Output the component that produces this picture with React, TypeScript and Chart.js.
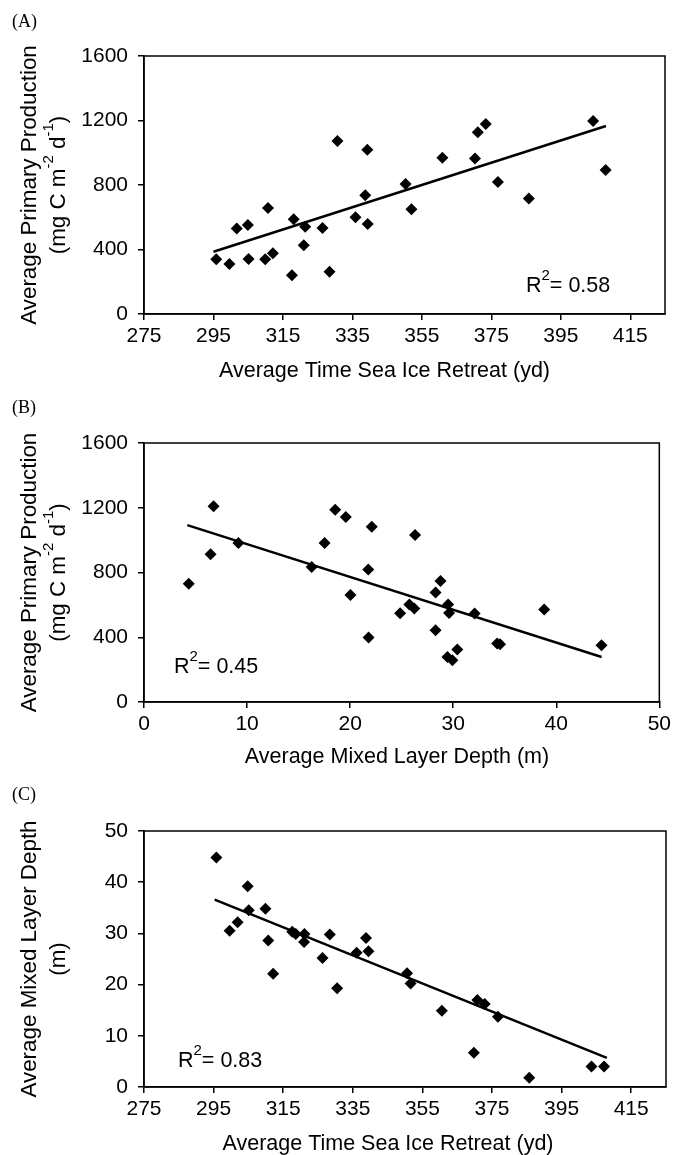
import React, { useEffect, useRef } from "react";
import { Chart, registerables } from "chart.js";

Chart.register(...registerables);

// ---------- data ----------
// Panel A: sea-ice retreat (yd) vs primary production
const retreatA = [295.8, 299.6, 301.7, 304.9, 305.1, 309.9, 310.7, 312.1, 317.6, 318.1, 321.0, 321.4, 326.4, 328.4, 330.7, 335.9, 338.7, 339.3, 339.4, 350.3, 352.0, 360.9, 370.3, 371.1, 373.4, 376.9, 385.8, 404.3, 407.9];
const productionA = [339, 310, 531, 552, 341, 339, 657, 376, 240, 587, 426, 541, 533, 262, 1073, 600, 736, 1019, 558, 806, 649, 969, 965, 1127, 1178, 819, 717, 1197, 893];
const trendAX = [295, 408];
const trendAY = [386, 1166];

// Panel B: mixed layer depth (m) vs primary production
const mldB = [4.34, 6.46, 6.75, 9.16, 16.27, 17.52, 18.55, 19.58, 20.03, 21.76, 21.79, 22.1, 24.85, 25.75, 26.23, 26.3, 28.29, 28.29, 28.77, 29.44, 29.51, 29.6, 29.92, 30.4, 32.08, 34.26, 34.55, 38.83, 44.39];
const productionB = [731, 912, 1209, 982, 834, 982, 1188, 1143, 661, 818, 398, 1083, 548, 603, 577, 1032, 676, 443, 747, 278, 603, 550, 258, 325, 546, 361, 356, 571, 350];
const trendBX = [4.2, 44.4];
const trendBY = [1093, 278];

// Panel C: sea-ice retreat (yd) vs mixed layer depth
const retreatC = [295.8, 299.6, 301.9, 304.8, 305.1, 309.9, 310.7, 312.1, 317.6, 318.6, 321.0, 321.1, 326.3, 328.4, 330.5, 336.1, 338.8, 339.5, 350.6, 351.6, 360.6, 369.8, 370.8, 372.9, 376.7, 385.7, 403.6, 407.2];
const mldC = [44.8, 30.5, 32.2, 39.2, 34.5, 34.8, 28.6, 22.1, 30.3, 29.9, 28.3, 29.9, 25.2, 29.8, 19.3, 26.2, 29.1, 26.5, 22.2, 20.2, 14.9, 6.7, 17.0, 16.2, 13.7, 1.8, 4.0, 4.0];
const trendCX = [295.3, 408];
const trendCY = [36.6, 5.7];

// ticks
const retreatTicks = [275, 295, 315, 335, 355, 375, 395, 415];
const mldXTicks = [0, 10, 20, 30, 40, 50];
const productionTicks = [0, 400, 800, 1200, 1600];
const mldYTicks = [0, 10, 20, 30, 40, 50];

// texts
const panelLabels = ["(A)", "(B)", "(C)"];
const r2Values = ["0.58", "0.45", "0.83"];
const xTitles = [
  "Average Time Sea Ice Retreat (yd)",
  "Average Mixed Layer Depth (m)",
  "Average Time Sea Ice Retreat (yd)",
];
const ppTitle = "Average Primary Production";
const mldTitle = "Average Mixed Layer Depth";

const SANS = '"Liberation Sans", Arial, Helvetica, sans-serif';
const SERIF = '"Liberation Serif", "Times New Roman", serif';

type Seg = { t: string; sup?: boolean };

const ppUnits: Seg[] = [
  { t: "(mg C m" },
  { t: "-2", sup: true },
  { t: " d" },
  { t: "-1", sup: true },
  { t: ")" },
];
const mldUnits: Seg[] = [{ t: "(m)" }];

type PanelCfg = {
  top: number;
  height: number;
  plotTop: number;
  plotBottom: number;
  plotRight: number;
  xs: number[];
  ys: number[];
  tx: number[];
  ty: number[];
  xMin: number;
  xMax: number;
  xTicks: number[];
  yMin: number;
  yMax: number;
  yTicks: number[];
  label: string;
  labelBase: number;
  yTitle1: string;
  yTitle2: Seg[];
  xTitle: string;
  xTitleCx: number;
  xTitleBase: number;
  r2: string;
  r2X: number;
  r2Base: number;
};

const panels: PanelCfg[] = [
  {
    top: 0, height: 390, plotTop: 56, plotBottom: 314, plotRight: 665,
    xs: retreatA, ys: productionA, tx: trendAX, ty: trendAY,
    xMin: 275, xMax: 425, xTicks: retreatTicks,
    yMin: 0, yMax: 1600, yTicks: productionTicks,
    label: panelLabels[0], labelBase: 26.7,
    yTitle1: ppTitle, yTitle2: ppUnits,
    xTitle: xTitles[0], xTitleCx: 384.5, xTitleBase: 376.7,
    r2: r2Values[0], r2X: 526, r2Base: 292,
  },
  {
    top: 390, height: 390, plotTop: 53, plotBottom: 312, plotRight: 662,
    xs: mldB, ys: productionB, tx: trendBX, ty: trendBY,
    xMin: 0, xMax: 50, xTicks: mldXTicks,
    yMin: 0, yMax: 1600, yTicks: productionTicks,
    label: panelLabels[1], labelBase: 23.3,
    yTitle1: ppTitle, yTitle2: ppUnits,
    xTitle: xTitles[1], xTitleCx: 397, xTitleBase: 373,
    r2: r2Values[1], r2X: 174, r2Base: 283.3,
  },
  {
    top: 780, height: 375, plotTop: 51, plotBottom: 307, plotRight: 666,
    xs: retreatC, ys: mldC, tx: trendCX, ty: trendCY,
    xMin: 275, xMax: 425, xTicks: retreatTicks,
    yMin: 0, yMax: 50, yTicks: mldYTicks,
    label: panelLabels[2], labelBase: 20,
    yTitle1: mldTitle, yTitle2: mldUnits,
    xTitle: xTitles[2], xTitleCx: 388, xTitleBase: 370,
    r2: r2Values[2], r2X: 178, r2Base: 286.7,
  },
];

const MAIN = 21.5;
const YTITLE = 22.4;
const SUP = 15;
const RISE = 12;

function segWidth(ctx: CanvasRenderingContext2D, segs: Seg[], size: number, sup: number) {
  let w = 0;
  for (const s of segs) {
    ctx.font = `${s.sup ? sup : size}px ${SANS}`;
    w += ctx.measureText(s.t).width;
  }
  return w;
}

function drawSegs(ctx: CanvasRenderingContext2D, segs: Seg[], x: number, base: number, size: number, sup: number, rise: number) {
  let cx = x;
  ctx.textAlign = "left";
  ctx.textBaseline = "alphabetic";
  for (const s of segs) {
    ctx.font = `${s.sup ? sup : size}px ${SANS}`;
    ctx.fillText(s.t, cx, s.sup ? base - rise : base);
    cx += ctx.measureText(s.t).width;
  }
}

function makeOverlay(cfg: PanelCfg) {
  return {
    id: "overlay",
    afterDraw(chart: any) {
      const ctx: CanvasRenderingContext2D = chart.ctx;
      const a = chart.chartArea;
      ctx.save();
      // frame
      ctx.strokeStyle = "#000";
      ctx.lineWidth = 1.5;
      ctx.strokeRect(a.left, a.top, a.right - a.left, a.bottom - a.top);
      ctx.fillStyle = "#000";
      // panel label
      ctx.font = `18px ${SERIF}`;
      ctx.textAlign = "left";
      ctx.textBaseline = "alphabetic";
      ctx.fillText(cfg.label, 12, cfg.labelBase);
      // x title
      ctx.font = `${MAIN}px ${SANS}`;
      ctx.textAlign = "center";
      ctx.fillText(cfg.xTitle, cfg.xTitleCx, cfg.xTitleBase);
      // R^2
      drawSegs(ctx, [{ t: "R" }, { t: "2", sup: true }, { t: "= " + cfg.r2 }], cfg.r2X, cfg.r2Base, MAIN, SUP, RISE);
      // y titles (rotated)
      const cy = (a.top + a.bottom) / 2;
      const capHalf = YTITLE * 0.716 / 2;
      const lines: { segs: Seg[]; cx: number }[] = [
        { segs: [{ t: cfg.yTitle1 }], cx: 28 },
        { segs: cfg.yTitle2, cx: 57 },
      ];
      for (const ln of lines) {
        const w = segWidth(ctx, ln.segs, YTITLE, SUP);
        ctx.save();
        ctx.translate(ln.cx, cy);
        ctx.rotate(-Math.PI / 2);
        drawSegs(ctx, ln.segs, -w / 2, capHalf, YTITLE, SUP, RISE);
        ctx.restore();
      }
      ctx.restore();
    },
  };
}

function Panel({ cfg }: { cfg: PanelCfg }) {
  const ref = useRef<HTMLCanvasElement | null>(null);
  useEffect(() => {
    if (!ref.current) return;
    const points = cfg.xs.map((x, i) => ({ x, y: cfg.ys[i] }));
    const trend = cfg.tx.map((x, i) => ({ x, y: cfg.ty[i] }));
    const tickFont = { family: SANS, size: 21 };
    const chart = new Chart(ref.current, {
      type: "scatter",
      data: {
        datasets: [
          {
            data: points,
            pointStyle: "rectRot",
            pointRadius: 6,
            pointBackgroundColor: "#000",
            pointBorderColor: "#000",
            pointBorderWidth: 0,
            showLine: false,
          },
          {
            data: trend,
            showLine: true,
            borderColor: "#000",
            borderWidth: 2.5,
            pointRadius: 0,
            fill: false,
          },
        ],
      } as any,
      options: {
        responsive: false,
        animation: false,
        devicePixelRatio: 1,
        layout: { padding: { top: cfg.plotTop, right: 675 - cfg.plotRight, left: 0, bottom: 0 } },
        plugins: { legend: { display: false }, tooltip: { enabled: false } },
        scales: {
          x: {
            type: "linear",
            position: "bottom",
            min: cfg.xMin,
            max: cfg.xMax,
            afterBuildTicks: (s: any) => {
              s.ticks = cfg.xTicks.map((v) => ({ value: v }));
            },
            afterFit: (s: any) => {
              s.height = cfg.height - cfg.plotBottom;
            },
            ticks: {
              color: "#000",
              font: tickFont,
              padding: 4,
              maxRotation: 0,
              autoSkip: false,
              callback: (v: any) => String(v),
            },
            grid: { drawOnChartArea: false, drawTicks: true, tickLength: 6, color: "#000", lineWidth: 1.5 },
            border: { display: true, color: "#000", width: 1.5 },
          },
          y: {
            type: "linear",
            position: "left",
            min: cfg.yMin,
            max: cfg.yMax,
            afterBuildTicks: (s: any) => {
              s.ticks = cfg.yTicks.map((v) => ({ value: v }));
            },
            afterFit: (s: any) => {
              s.width = 144;
            },
            ticks: {
              color: "#000",
              font: tickFont,
              padding: 10,
              autoSkip: false,
              callback: (v: any) => String(v),
            },
            grid: { drawOnChartArea: false, drawTicks: true, tickLength: 6, color: "#000", lineWidth: 1.5 },
            border: { display: true, color: "#000", width: 1.5 },
          },
        },
      } as any,
      plugins: [makeOverlay(cfg)],
    });
    return () => chart.destroy();
  }, [cfg]);
  return (
    <canvas
      ref={ref}
      width={675}
      height={cfg.height}
      style={{ position: "absolute", left: 0, top: cfg.top, width: 675, height: cfg.height }}
    />
  );
}

export default function App() {
  return (
    <div style={{ position: "absolute", left: 0, top: 0, width: 675, height: 1155, background: "#fff" }}>
      {panels.map((p, i) => (
        <Panel key={i} cfg={p} />
      ))}
    </div>
  );
}
